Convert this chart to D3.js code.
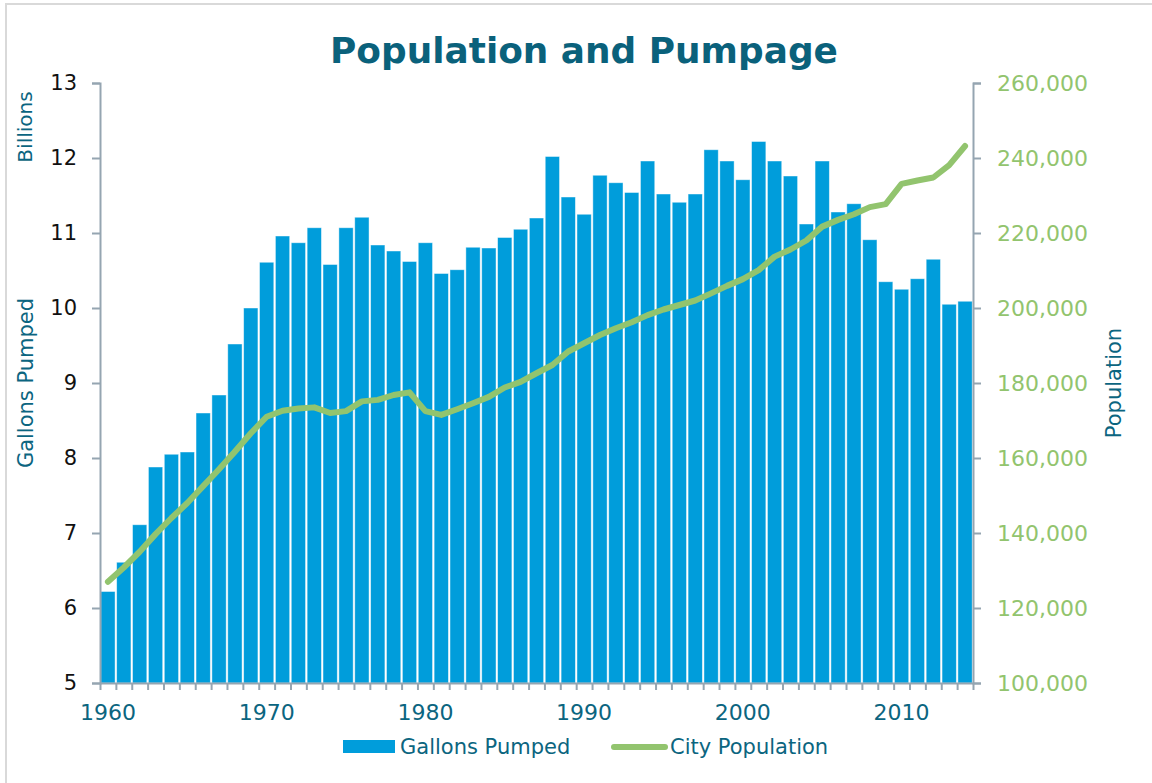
<!DOCTYPE html>
<html>
<head>
<meta charset="utf-8">
<script src="https://cdn.jsdelivr.net/npm/d3@7/dist/d3.min.js"></script>
<style>
  html, body { margin: 0; padding: 0; background: #ffffff; }
  svg { display: block; }
</style>
</head>
<body>
<svg id="chart" width="1152" height="783"></svg>
<script>
// ---- data ----
const years = [1960,1961,1962,1963,1964,1965,1966,1967,1968,1969,
               1970,1971,1972,1973,1974,1975,1976,1977,1978,1979,
               1980,1981,1982,1983,1984,1985,1986,1987,1988,1989,
               1990,1991,1992,1993,1994,1995,1996,1997,1998,1999,
               2000,2001,2002,2003,2004,2005,2006,2007,2008,2009,
               2010,2011,2012,2013,2014];
const gallonsPumped = [6.22,6.61,7.11,7.88,8.05,8.08,8.60,8.84,9.52,10.00,
                       10.61,10.96,10.87,11.07,10.58,11.07,11.21,10.84,10.76,10.62,
                       10.87,10.46,10.51,10.81,10.80,10.94,11.05,11.20,12.02,11.48,
                       11.25,11.77,11.67,11.54,11.96,11.52,11.41,11.52,12.11,11.96,
                       11.71,12.22,11.96,11.76,11.12,11.96,11.28,11.39,10.91,10.35,
                       10.25,10.39,10.65,10.05,10.09];
const cityPopulation = [127000,130800,135000,139700,144000,148000,152500,157000,161700,166600,
                        171000,172600,173200,173500,172000,172500,175100,175500,176800,177500,
                        172500,171500,173000,174600,176300,178800,180300,182600,184800,188400,
                        190600,192800,194600,196200,198100,199600,200800,202000,203900,205900,
                        207700,210100,213700,215600,218000,221700,223500,225000,226900,227700,
                        233100,234000,234800,238100,243200];
const leftTicks = [5,6,7,8,9,10,11,12,13];
const rightTicks = [100000,120000,140000,160000,180000,200000,220000,240000,260000];
const xLabelYears = [1960,1970,1980,1990,2000,2010];
const titleText = "Population and Pumpage";
const leftTitleTop = "Billions";
const leftTitle = "Gallons Pumped";
const rightTitle = "Population";
const seriesNames = ["Gallons Pumped", "City Population"];

// ---- styles ----
const FONT = "'DejaVu Sans', sans-serif";
const C_BAR = "#009ddb";
const C_LINE = "#92c46e";
const C_TEAL = "#0b6580";
const C_AXIS = "#95a5b1";

const svg = d3.select("#chart");
const L = 100, R = 973, T = 83, B = 683;

// border
svg.append("path")
  .attr("d", "M6,783V4H1152")
  .attr("fill", "none").attr("stroke", "#d9d9d9").attr("stroke-width", 2);

const x = d3.scaleBand().domain(years).range([L, R]).paddingInner(0.1).paddingOuter(0.05);
const xEdge = d3.scaleLinear().domain([0, years.length]).range([L, R]);
const yL = d3.scaleLinear().domain([5, 13]).range([B, T]);
const yR = d3.scaleLinear().domain([100000, 260000]).range([B, T]);

// bars
svg.append("g").selectAll("rect").data(years).join("rect")
  .attr("x", (d) => x(d))
  .attr("width", x.bandwidth())
  .attr("y", (d, i) => yL(gallonsPumped[i]))
  .attr("height", (d, i) => yL(5) - yL(gallonsPumped[i]))
  .attr("fill", C_BAR)
  .attr("stroke", "rgba(255,255,255,0.55)")
  .attr("stroke-width", 0.8);

// line
const line = d3.line()
  .x((d, i) => x(years[i]) + x.bandwidth() / 2)
  .y((d) => yR(d));
svg.append("path").datum(cityPopulation)
  .attr("d", line)
  .attr("fill", "none")
  .attr("stroke", C_LINE)
  .attr("stroke-width", 6)
  .attr("stroke-linejoin", "round")
  .attr("stroke-linecap", "round");

function styleAxis(g, color, size) {
  g.select(".domain").attr("stroke", C_AXIS).attr("stroke-width", 2);
  g.selectAll(".tick line").attr("stroke", C_AXIS).attr("stroke-width", 2);
  g.selectAll(".tick text").attr("fill", color).style("font-family", FONT).style("font-size", size + "px");
}

// left axis
const gL = svg.append("g").attr("transform", `translate(${L},0)`)
  .call(d3.axisLeft(yL).tickValues(leftTicks).tickSize(8).tickSizeOuter(8).tickPadding(15).tickFormat(d3.format("d")));
styleAxis(gL, "#111111", 21);

// right axis
const gR = svg.append("g").attr("transform", `translate(${R},0)`)
  .call(d3.axisRight(yR).tickValues(rightTicks).tickSize(8).tickSizeOuter(8).tickPadding(16).tickFormat(d3.format(",")));
styleAxis(gR, C_LINE, 22);

// bottom axis: ticks at band edges
const gB = svg.append("g").attr("transform", `translate(0,${B})`)
  .call(d3.axisBottom(xEdge).tickValues(d3.range(years.length + 1)).tickSize(7).tickSizeOuter(0).tickFormat(""));
styleAxis(gB, C_TEAL, 22);

// bottom labels
const gBL = svg.append("g").attr("transform", `translate(0,${B})`)
  .call(d3.axisBottom(x).tickValues(xLabelYears).tickSize(0).tickPadding(21));
gBL.select(".domain").remove();
gBL.selectAll(".tick text").attr("fill", C_TEAL).style("font-family", FONT).style("font-size", "22px");

// title
const title = svg.append("text")
  .attr("x", 584).attr("y", 63)
  .attr("text-anchor", "middle")
  .attr("fill", "#0a617b")
  .style("font-family", FONT)
  .style("font-weight", "bold")
  .style("font-size", "38px")
  .text(titleText);
const tw = title.node().getComputedTextLength();
title.style("font-size", (38 * 508 / tw).toFixed(2) + "px");

// axis titles
function vText(cx, cy, txt, size, color) {
  svg.append("text")
    .attr("transform", `translate(${cx},${cy}) rotate(-90)`)
    .attr("text-anchor", "middle")
    .attr("dy", "0.36em")
    .attr("fill", color)
    .style("font-family", FONT)
    .style("font-size", size + "px")
    .text(txt);
}
vText(25, 127, leftTitleTop, 20, C_TEAL);
vText(25, 383, leftTitle, 21, C_TEAL);
vText(1113, 383, rightTitle, 21, C_TEAL);

// legend
const lg = svg.append("g");
lg.append("rect").attr("x", 343).attr("y", 740).attr("width", 52).attr("height", 13).attr("fill", C_BAR);
lg.append("text").attr("x", 400).attr("y", 754).attr("fill", C_TEAL)
  .style("font-family", FONT).style("font-size", "21px").text(seriesNames[0]);
lg.append("line").attr("x1", 614).attr("x2", 665).attr("y1", 747).attr("y2", 747)
  .attr("stroke", C_LINE).attr("stroke-width", 6).attr("stroke-linecap", "round");
lg.append("text").attr("x", 670).attr("y", 754).attr("fill", C_TEAL)
  .style("font-family", FONT).style("font-size", "21px").text(seriesNames[1]);
</script>
</body>
</html>
